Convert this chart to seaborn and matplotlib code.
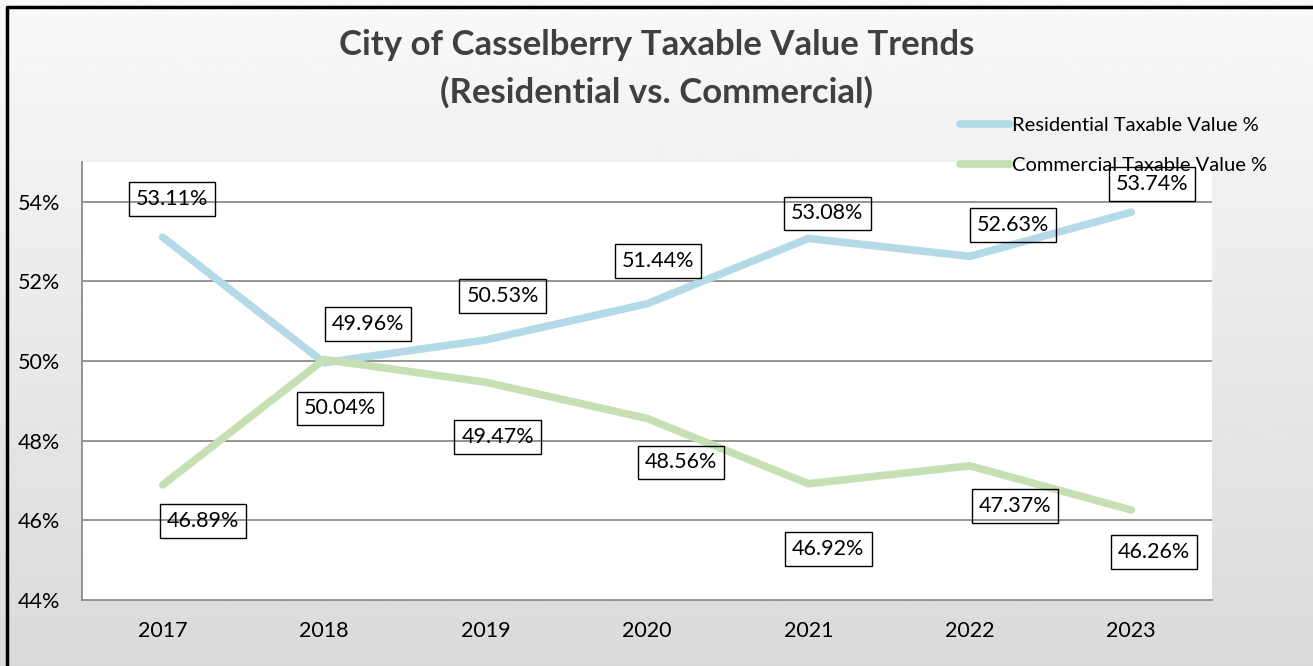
import numpy as np
import pandas as pd
import matplotlib
matplotlib.use("Agg")
import matplotlib.pyplot as plt
import seaborn as sns

# 数据
years = ["2017", "2018", "2019", "2020", "2021", "2022", "2023"]
residential = [53.11, 49.96, 50.53, 51.44, 53.08, 52.63, 53.74]
commercial = [46.89, 50.04, 49.47, 48.56, 46.92, 47.37, 46.26]
series_names = ["Residential Taxable Value %", "Commercial Taxable Value %"]
y_ticks = [44, 46, 48, 50, 52, 54]

# 标签偏移（像素）
res_offsets = [(9, 38), (44, 39), (17, 44), (11, 43), (19, 25), (43, 31), (21, 28)]
com_offsets = [(40, -36), (16, -49), (12, -55), (34, -44), (20, -65), (45, -40), (23, -42)]

sns.set_style("white")
plt.rcParams['font.family'] = ['Lato', 'DejaVu Sans']

df = pd.DataFrame({
    'Year': years * 2,
    'Value': residential + commercial,
    'Series': [series_names[0]] * len(years) + [series_names[1]] * len(years),
})

fig = plt.figure(figsize=(13.13, 6.66), dpi=100)

# 背景渐变
bg = fig.add_axes([0, 0, 1, 1], zorder=-10)
grad = np.linspace(0.975, 0.855, 256).reshape(-1, 1)
bg.imshow(grad, aspect='auto', cmap='gray', vmin=0, vmax=1, extent=[0, 1, 0, 1])
bg.set_xlim(0, 1)
bg.set_ylim(0, 1)
bg.axis('off')
# 外框
bg.plot([7 / 1313, 7 / 1313, 1.0], [0, 1 - 7 / 666, 1 - 7 / 666], color='black', lw=2.5,
        transform=bg.transAxes, clip_on=False)

ax = fig.add_axes([82 / 1313, (666 - 600) / 666, (1212 - 82) / 1313, (600 - 162) / 666])
ax.set_facecolor('white')

palette = {series_names[0]: '#b3dae6', series_names[1]: '#c6e0b4'}
sns.lineplot(data=df, x='Year', y='Value', hue='Series', palette=palette,
             linewidth=5.5, ax=ax, sort=False, solid_capstyle='round')

ax.set_xlim(-0.5, len(years) - 0.5)
ax.set_ylim(44, 55)
ax.set_yticks(y_ticks)
ax.set_yticklabels([f"{t}%" for t in y_ticks])
for t in y_ticks[1:]:
    ax.axhline(t, color='#8c8c8c', lw=1.3, zorder=0)
ax.tick_params(axis='both', length=0, labelsize=15.5, labelcolor='black')
ax.tick_params(axis='y', pad=16)
ax.tick_params(axis='x', pad=15)
ax.set_xlabel('')
ax.set_ylabel('')
for s in ['top', 'right']:
    ax.spines[s].set_visible(False)
for s in ['left', 'bottom']:
    ax.spines[s].set_color('#8c8c8c')
    ax.spines[s].set_linewidth(1.3)

box = dict(boxstyle='square,pad=0.32', facecolor='none', edgecolor='black', lw=1)
for i, v in enumerate(residential):
    ax.annotate(f"{v:.2f}%", (i, v), xytext=res_offsets[i], textcoords='offset pixels',
                ha='center', va='center', fontsize=15.5, color='black', bbox=box, annotation_clip=False)
for i, v in enumerate(commercial):
    ax.annotate(f"{v:.2f}%", (i, v), xytext=com_offsets[i], textcoords='offset pixels',
                ha='center', va='center', fontsize=15.5, color='black', bbox=box, annotation_clip=False)

leg = ax.legend(loc='upper left', bbox_to_anchor=(960 / 1313, 1 - 117 / 666), bbox_transform=fig.transFigure,
                frameon=False, fontsize=14.5, handlelength=2.5, handletextpad=0.1, labelspacing=1.15,
                borderaxespad=0, borderpad=0)
for txt in leg.get_texts():
    txt.set_color('black')

fig.text(0.5, 1 - 45 / 666, "City of Casselberry Taxable Value Trends", ha='center', va='center',
         fontsize=25, fontweight='bold', color='#404040')
fig.text(0.5, 1 - 92 / 666, "(Residential vs. Commercial)", ha='center', va='center',
         fontsize=25, fontweight='bold', color='#404040')

fig.savefig('out.png', dpi=100)
